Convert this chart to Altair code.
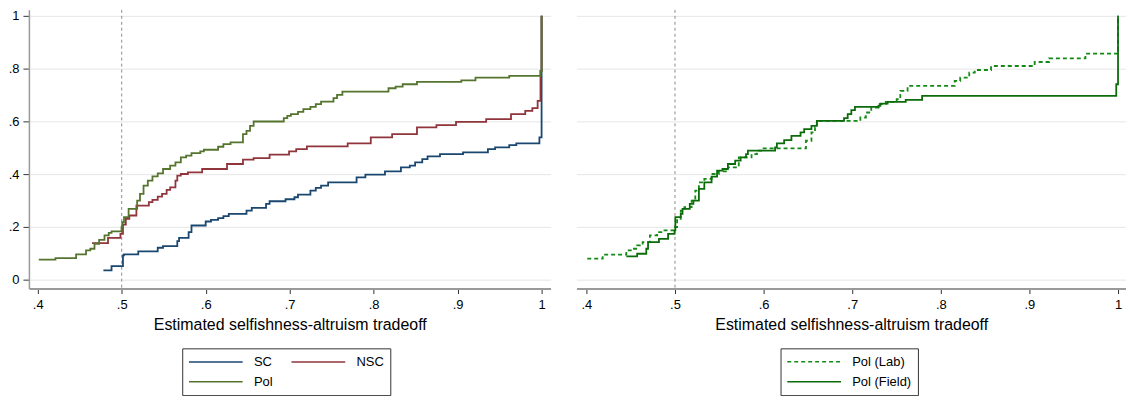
import altair as alt
import pandas as pd

# ---------------- data ----------------
sc_x = [0.4782, 0.4879, 0.5015, 0.5027, 0.5197, 0.5429, 0.5492, 0.5662, 0.5683, 0.5797,
        0.5831, 0.6000, 0.6063, 0.6148, 0.6211, 0.6275, 0.6486, 0.6549, 0.6719, 0.6761,
        0.6951, 0.7057, 0.7099, 0.7247, 0.7311, 0.7374, 0.7458, 0.7797, 0.7902, 0.8135,
        0.8325, 0.8431, 0.8494, 0.8579, 0.8642, 0.8790, 0.9065, 0.9361, 0.9446, 0.9615,
        0.9699, 0.9974, 1.0]
sc_y = [0.0353, 0.0516, 0.0919, 0.0957, 0.1071, 0.1209, 0.1272, 0.1461, 0.1587, 0.1801,
        0.2053, 0.2204, 0.2267, 0.2330, 0.2406, 0.2494, 0.2620, 0.2720, 0.2872, 0.2972,
        0.3048, 0.3123, 0.3224, 0.3375, 0.3476, 0.3564, 0.3690, 0.3879, 0.3980, 0.4106,
        0.4257, 0.4320, 0.4446, 0.4572, 0.4673, 0.4761, 0.4824, 0.4950, 0.5013, 0.5101,
        0.5164, 0.5390, 1.0]

nsc_x = [0.4647, 0.4837, 0.4985, 0.5015, 0.5049, 0.5091, 0.5175, 0.5323, 0.5366, 0.5429,
         0.5480, 0.5535, 0.5577, 0.5640, 0.5662, 0.5704, 0.5788, 0.5958, 0.6254, 0.6444,
         0.6571, 0.6761, 0.6993, 0.7078, 0.7205, 0.7691, 0.7966, 0.8220, 0.8516, 0.8748,
         0.8981, 0.9340, 0.9636, 0.9805, 0.9890, 0.9953, 0.9987, 1.0]
nsc_y = [0.1385, 0.1587, 0.1738, 0.2091, 0.2305, 0.2431, 0.2809, 0.2935, 0.3023, 0.3149,
         0.3249, 0.3401, 0.3501, 0.3753, 0.3942, 0.4005, 0.4068, 0.4194, 0.4383, 0.4547,
         0.4610, 0.4736, 0.4861, 0.4950, 0.5050, 0.5164, 0.5390, 0.5516, 0.5768, 0.5856,
         0.5982, 0.6083, 0.6272, 0.6398, 0.6499, 0.6776, 0.7909, 1.0]

pol_x = [0.4013, 0.4211, 0.4457, 0.4575, 0.4626, 0.4676, 0.4731, 0.4795, 0.4846, 0.4879,
         0.4998, 0.5006, 0.5027, 0.5082, 0.5184, 0.5218, 0.5260, 0.5311, 0.5366, 0.5429,
         0.5492, 0.5577, 0.5640, 0.5704, 0.5767, 0.5831, 0.5936, 0.5979, 0.6148, 0.6211,
         0.6296, 0.6444, 0.6486, 0.6528, 0.6571, 0.6930, 0.6972, 0.7015, 0.7099, 0.7163,
         0.7247, 0.7311, 0.7374, 0.7522, 0.7564, 0.7628, 0.8177, 0.8262, 0.8346, 0.8516,
         0.9044, 0.9213, 0.9615, 0.9987, 1.0]
pol_y = [0.0756, 0.0819, 0.0957, 0.1108, 0.1171, 0.1360, 0.1511, 0.1675, 0.1776, 0.1826,
         0.1990, 0.2179, 0.2368, 0.2683, 0.2997, 0.3249, 0.3564, 0.3753, 0.3917, 0.4030,
         0.4194, 0.4320, 0.4446, 0.4635, 0.4698, 0.4798, 0.4861, 0.4924, 0.5038, 0.5139,
         0.5202, 0.5516, 0.5642, 0.5831, 0.5995, 0.6121, 0.6209, 0.6272, 0.6360, 0.6461,
         0.6549, 0.6650, 0.6751, 0.6877, 0.7003, 0.7128, 0.7254, 0.7317, 0.7406, 0.7494,
         0.7557, 0.7657, 0.7720, 0.7909, 1.0]

lab_x = [0.4010, 0.4184, 0.4451, 0.4512, 0.4573, 0.4635, 0.4717, 0.4799, 0.4881, 0.4983,
         0.5024, 0.5065, 0.5106, 0.5188, 0.5229, 0.5270, 0.5331, 0.5413, 0.5495, 0.5597,
         0.5720, 0.5864, 0.5925, 0.5987, 0.6478, 0.6540, 0.6580, 0.6601, 0.7092, 0.7154,
         0.7215, 0.7297, 0.7379, 0.7502, 0.7543, 0.7625, 0.8157, 0.8219, 0.8321, 0.8383,
         0.8567, 0.9059, 0.9222, 0.9632, 1.0]
lab_y = [0.0793, 0.0945, 0.1108, 0.1171, 0.1297, 0.1423, 0.1675, 0.1801, 0.1864, 0.1990,
         0.2305, 0.2620, 0.2746, 0.2997, 0.3375, 0.3690, 0.3816, 0.4005, 0.4106, 0.4257,
         0.4635, 0.4761, 0.4887, 0.4975, 0.5264, 0.5579, 0.5768, 0.6020, 0.6146, 0.6335,
         0.6524, 0.6650, 0.6738, 0.6839, 0.7154, 0.7343, 0.7531, 0.7657, 0.7846, 0.7947,
         0.8098, 0.8249, 0.8388, 0.8564, 1.0]

field_x = [0.4451, 0.4573, 0.4676, 0.4696, 0.4819, 0.4922, 0.4995, 0.5004, 0.5065, 0.5085,
           0.5167, 0.5208, 0.5270, 0.5331, 0.5413, 0.5475, 0.5536, 0.5597, 0.5679, 0.5741,
           0.5802, 0.5823, 0.6130, 0.6150, 0.6232, 0.6314, 0.6417, 0.6458, 0.6540, 0.6601,
           0.6908, 0.6949, 0.6990, 0.7031, 0.7297, 0.7318, 0.7400, 0.7604, 0.7789, 0.9980,
           1.0]
field_y = [0.0882, 0.0982, 0.1171, 0.1423, 0.1549, 0.1738, 0.1864, 0.2368, 0.2494, 0.2683,
           0.2872, 0.2997, 0.3438, 0.3690, 0.3904, 0.4131, 0.4194, 0.4383, 0.4509, 0.4635,
           0.4761, 0.4887, 0.5013, 0.5164, 0.5290, 0.5453, 0.5579, 0.5705, 0.5831, 0.6020,
           0.6121, 0.6272, 0.6423, 0.6549, 0.6587, 0.6675, 0.6738, 0.6814, 0.6965, 0.7406,
           1.0]

x_ticks = [0.4, 0.5, 0.6, 0.7, 0.8, 0.9, 1.0]
y_ticks = [0.0, 0.2, 0.4, 0.6, 0.8, 1.0]
ref_x = [0.5]
x_title = "Estimated selfishness-altruism tradeoff"

left_names = ["SC", "NSC", "Pol"]
left_colors = ["#1a476f", "#90353b", "#55752f"]
right_names = ["Pol (Lab)", "Pol (Field)"]
right_colors = ["#138a13", "#0b6b0b"]

# ---------------- frames ----------------
def frame(name, xs, ys):
    return pd.DataFrame({"x": xs, "y": ys, "series": name})

left_df = [frame("SC", sc_x, sc_y), frame("NSC", nsc_x, nsc_y), frame("Pol", pol_x, pol_y)]
right_df = [frame("Pol (Lab)", lab_x, lab_y), frame("Pol (Field)", field_x, field_y)]
ref_df = pd.DataFrame({"x": ref_x})

x_label_expr = "datum.value == 1 ? '1' : replace(format(datum.value, '.1f'), '0.', '.')"
y_label_expr = ("datum.value == 0 ? '0' : datum.value == 1 ? '1' : "
                "replace(format(datum.value, '.1f'), '0.', '.')")

y_scale = alt.Scale(domain=[-0.034, 1.0226], nice=False, zero=False)

# long horizontal line symbol for the legend (unit path scaled by sqrt(size)/2)
LINE_SYMBOL = "M-1,0H7"


def x_axis():
    return alt.Axis(values=x_ticks, labelExpr=x_label_expr, title=x_title, grid=False,
                    tickSize=5, tickColor="#333333", domainColor="#9a9a9a", domainWidth=2,
                    labelPadding=5, titlePadding=5, labelFlush=False)


def build(dfs, names, colors, x_dom, width, y_axis, legend, dashes=None):
    xs = alt.Scale(domain=x_dom, nice=False, zero=False)
    ref = alt.Chart(ref_df).mark_rule(color="#8c8c8c", strokeWidth=1, strokeDash=[3, 3]).encode(
        x=alt.X("x:Q", scale=xs, axis=x_axis()),
    )
    layers = [ref]
    for df in dfs:
        enc = dict(
            x=alt.X("x:Q", scale=xs, axis=x_axis()),
            y=alt.Y("y:Q", scale=y_scale, axis=y_axis),
            color=alt.Color("series:N", scale=alt.Scale(domain=names, range=colors), legend=legend),
        )
        if dashes is not None:
            enc["strokeDash"] = alt.StrokeDash("series:N",
                                               scale=alt.Scale(domain=names, range=dashes),
                                               legend=legend)
        layers.append(
            alt.Chart(df).mark_line(interpolate="step-after", strokeWidth=1.8).encode(**enc)
        )
    return alt.layer(*layers).properties(width=width, height=280)


left_y_axis = alt.Axis(values=y_ticks, labelExpr=y_label_expr, title=None, grid=True,
                       gridColor="#e6e6e6", tickSize=6, tickColor="#333333",
                       domainColor="#9a9a9a", domainWidth=1.5, labelPadding=4)
right_y_axis = alt.Axis(values=y_ticks, title=None, grid=True, gridColor="#e6e6e6",
                        labels=False, ticks=False, domain=False)

left_legend = alt.Legend(title=None, orient="none", legendX=154, legendY=340, columns=2,
                         direction="horizontal",
                         columnPadding=15, rowPadding=5, symbolType=LINE_SYMBOL,
                         symbolSize=182, symbolStrokeWidth=1.5, labelOffset=51,
                         strokeColor="#333333", padding=6, labelFontSize=13,
                         labelExpr="datum.label + '\u2003\u2002'")
right_legend = alt.Legend(title=None, orient="none", legendX=205, legendY=340, columns=1,
                          direction="vertical",
                          rowPadding=5, symbolType=LINE_SYMBOL,
                          symbolSize=182, symbolStrokeWidth=1.5, labelOffset=51,
                          strokeColor="#333333", padding=6, labelFontSize=13,
                          labelExpr="datum.label + '\u2003'")

left = build(left_df, left_names, left_colors, [0.3895, 1.0107], 524, left_y_axis, left_legend)
right = build(right_df, right_names, right_colors, [0.3888, 1.009], 552, right_y_axis,
              right_legend, dashes=[[4, 3], [1, 0]])

chart = alt.hconcat(left, right, spacing=26).resolve_scale(
    color="independent", strokeDash="independent", x="independent"
).properties(
    padding={"left": 0, "top": 0, "right": 0, "bottom": 0}
).configure(
    font="Liberation Sans"
).configure_view(
    stroke=None
).configure_axis(
    labelFontSize=13, labelColor="#000000", titleFontSize=16, titleColor="#000000",
    titleFontWeight="normal"
).configure_legend(
    labelColor="#000000", labelFont="Liberation Sans"
)

chart.save("out.html", embed_options={"renderer": "svg", "actions": False})
